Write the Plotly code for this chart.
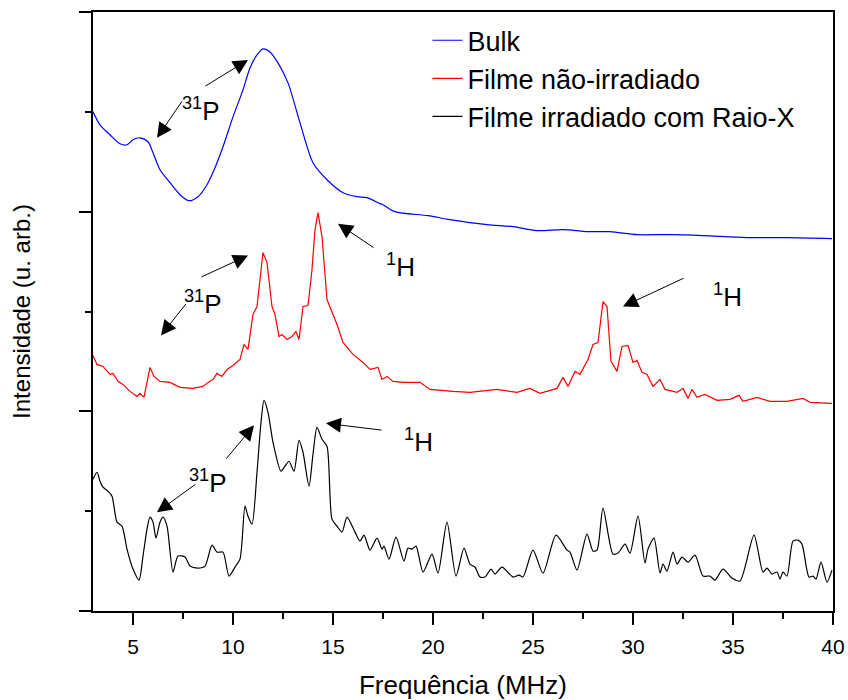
import plotly.graph_objects as go

# ---------------- data (frequency in MHz, intensity in arbitrary units with vertical offsets) ----------------
bulk_x = [3.0, 3.35, 3.85, 4.35, 4.7, 5.0, 5.35, 5.75, 6.0, 6.35, 6.85, 7.35, 7.8, 8.25, 8.7, 9.1,
          9.5, 10.0, 10.5, 10.85, 11.2, 11.5, 11.85, 12.25, 12.75, 13.35, 14.0, 14.7, 15.5, 16.2,
          16.7, 17.35, 17.5, 18.1, 19.75, 20.85, 22.7, 24.0, 25.2, 26.5, 27.7, 28.85, 30.2, 31.85,
          33.5, 35.7, 37.7, 39.95]
bulk_y = [500, 487, 477, 468, 467, 472, 474, 470, 459, 442, 429, 417, 411, 415, 427, 444,
          465, 495, 522, 544, 557, 563, 560, 549, 529, 489, 449, 432, 419, 415,
          414, 408, 407, 400, 396, 392, 387, 385, 381, 382, 380, 380, 377, 377,
          376, 374, 374, 373]

film_x = [3.0, 3.2, 3.5, 3.85, 4.0, 4.25, 4.5, 4.85, 5.2, 5.35, 5.55, 5.85, 6.05, 6.35, 6.85, 7.35,
          8.0, 8.5, 8.75, 9.0, 9.2, 9.45, 9.7, 10.0, 10.35, 10.55, 10.75, 11.0, 11.2, 11.35, 11.5,
          11.7, 11.95, 12.1, 12.3, 12.45, 12.7, 12.95, 13.15, 13.3, 13.5, 13.75, 13.95, 14.1, 14.25,
          14.45, 14.7, 15.2, 15.5, 16.0, 16.5, 16.85, 17.25, 17.45, 17.7, 18.0, 18.5, 19.35, 19.85,
          21.0, 21.85, 23.2, 24.2, 24.85, 25.35, 26.2, 26.5, 26.75, 27.1, 27.35, 27.75, 28.0, 28.25,
          28.5, 28.7, 28.9, 29.2, 29.45, 29.75, 30.0, 30.2, 30.45, 30.7, 31.0, 31.35, 31.6, 32.2,
          32.5, 32.75, 32.95, 33.2, 33.6, 34.2, 34.85, 35.3, 35.5, 36.2, 36.85, 37.7, 38.5, 38.85,
          39.95]
film_y = [256, 247, 245, 237, 238, 230, 227, 220, 215, 218, 214, 244, 235, 230, 229, 224,
          223, 225, 229, 232, 238, 235, 242, 246, 252, 267, 262, 297, 305, 335, 359,
          349, 305, 297, 275, 277, 272, 275, 280, 272, 305, 306, 342, 382, 399,
          375, 312, 287, 269, 257, 249, 242, 244, 232, 235, 230, 229, 229, 222,
          220, 219, 222, 219, 223, 218, 223, 234, 225, 240, 237, 252, 267, 269,
          310, 305, 250, 240, 265, 266, 249, 251, 239, 237, 225, 232, 222, 219,
          223, 213, 222, 214, 217, 211, 212, 216, 210, 214, 210, 210, 213, 209,
          208]

xray_x = [3.0, 3.2, 3.35, 3.5, 3.75, 3.95, 4.2, 4.45, 4.7, 5.0, 5.3, 5.5, 5.7, 5.85, 6.0, 6.15,
          6.35, 6.5, 6.7, 7.0, 7.25, 7.6, 7.85, 8.25, 8.6, 8.95, 9.2, 9.5, 9.8, 10.1, 10.35, 10.6,
          10.75, 10.95, 11.2, 11.4, 11.55, 11.75, 12.0, 12.4, 12.6, 12.8, 13.05, 13.3, 13.5, 13.8,
          14.0, 14.2, 14.45, 14.7, 14.95, 15.2, 15.45, 15.7, 16.1, 16.35, 16.55, 16.85, 17.2, 17.45,
          17.55, 17.8, 18.15, 18.55, 18.75, 18.95, 19.15, 19.5, 19.95, 20.25, 20.7, 21.15, 21.55,
          21.85, 22.1, 22.35, 22.6, 22.9, 23.1, 23.45, 24.0, 24.3, 24.5, 25.0, 25.5, 26.15, 26.7,
          26.85, 27.2, 27.7, 28.0, 28.2, 28.5, 29.0, 29.25, 29.6, 29.85, 30.25, 30.6, 30.75, 31.05,
          31.35, 31.5, 31.7, 32.0, 32.2, 32.45, 32.75, 33.1, 33.5, 33.85, 34.1, 34.5, 34.95, 35.35,
          36.05, 36.5, 36.7, 36.95, 37.2, 37.35, 37.5, 37.7, 38.0, 38.25, 38.45, 38.8, 39.0, 39.15,
          39.4, 39.7, 39.95]
xray_y = [132, 139, 130, 124, 120, 115, 89, 85, 62, 42, 31, 55, 82, 94, 89, 73,
          89, 94, 85, 39, 55, 54, 45, 43, 45, 66, 59, 59, 35, 44, 52, 105,
          95, 87, 139, 189, 211, 199, 169, 140, 145, 150, 140, 171, 159, 125,
          157, 184, 172, 165, 92, 85, 79, 94, 79, 70, 76, 61, 73, 62,
          65, 52, 74, 50, 63, 62, 65, 39, 57, 38, 89, 35, 63,
          47, 44, 34, 34, 42, 37, 44, 34, 36, 34, 61, 38, 76, 61,
          59, 41, 77, 60, 61, 103, 57, 58, 67, 58, 95, 48, 62, 73,
          38, 47, 40, 59, 47, 54, 49, 56, 35, 35, 31, 42, 33, 30,
          76, 39, 43, 37, 39, 32, 39, 35, 70, 71, 67, 34, 35, 32,
          49, 29, 41]

series_names = ["Bulk", "Filme não-irradiado", "Filme irradiado com Raio-X"]
series_colors = ["#0000ff", "#ff0000", "#000000"]

FONT = "Liberation Sans, Arial, sans-serif"

fig = go.Figure()
fig.add_trace(go.Scatter(x=bulk_x, y=bulk_y, mode="lines", name=series_names[0],
                         line=dict(color=series_colors[0], width=1.2, shape="spline", smoothing=0.8)))
fig.add_trace(go.Scatter(x=film_x, y=film_y, mode="lines", name=series_names[1],
                         line=dict(color=series_colors[1], width=1.2)))
fig.add_trace(go.Scatter(x=xray_x, y=xray_y, mode="lines", name=series_names[2],
                         line=dict(color=series_colors[2], width=1.2, shape="spline", smoothing=0.7)))

# ---------------- annotations: arrows (tail -> tip) and labels ----------------
arrows = [
    # bulk
    ((8.55, 525), (10.75, 552)),
    ((7.5, 512), (6.2, 474)),
    # film not irradiated
    ((8.35, 334), (10.75, 356)),
    ((7.7, 309), (6.4, 276)),
    ((17.1, 363), (15.25, 388)),
    ((32.6, 334), (29.5, 305)),
    # film irradiated
    ((9.6, 151), (11.05, 186)),
    ((8.2, 128), (6.2, 99)),
    ((17.5, 181), (14.65, 188)),
]
for (tx, ty), (hx, hy) in arrows:
    fig.add_annotation(x=hx, y=hy, ax=tx, ay=ty, xref="x", yref="y", axref="x", ayref="y",
                       text="", showarrow=True, arrowhead=2, arrowsize=3, arrowwidth=1,
                       arrowcolor="black", standoff=0, startstandoff=0)

labels = [
    (8.4, 502, "<sup>31</sup>P"),
    (8.5, 309, "<sup>31</sup>P"),
    (18.35, 346, "<sup>1</sup>H"),
    (34.7, 316, "<sup>1</sup>H"),
    (8.75, 130, "<sup>31</sup>P"),
    (19.25, 171, "<sup>1</sup>H"),
]
for lx, ly, txt in labels:
    fig.add_annotation(x=lx, y=ly, xref="x", yref="y", text=txt, showarrow=False,
                       font=dict(family=FONT, size=26, color="black"))

fig.update_layout(
    width=848, height=700,
    margin=dict(l=93, r=15, t=12, b=89, autoexpand=False),
    paper_bgcolor="white", plot_bgcolor="white",
    font=dict(family=FONT, color="black"),
    showlegend=True,
    legend=dict(x=0.452, y=0.993, xanchor="left", yanchor="top",
                bgcolor="rgba(0,0,0,0)", borderwidth=0,
                font=dict(family=FONT, size=27, color="black"),
                tracegroupgap=0, itemwidth=30),
)

fig.update_xaxes(
    range=[3, 40], tick0=0, dtick=5, automargin=False,
    showgrid=False, zeroline=False,
    showline=True, linecolor="black", linewidth=2, mirror=True,
    ticks="outside", ticklen=12, tickwidth=2, tickcolor="black",
    minor=dict(dtick=2.5, tick0=0, ticks="outside", ticklen=6, tickwidth=2, tickcolor="black", showgrid=False),
    tickfont=dict(family=FONT, size=21, color="black"), ticklabelstandoff=4,
    title=dict(text="Frequência (MHz)", font=dict(family=FONT, size=26, color="black"), standoff=26),
)
fig.update_yaxes(
    range=[0, 600], tick0=0, dtick=200, automargin=False,
    showgrid=False, zeroline=False,
    showline=True, linecolor="black", linewidth=2, mirror=True,
    ticks="outside", ticklen=12, tickwidth=2, tickcolor="black",
    minor=dict(dtick=100, tick0=0, ticks="outside", ticklen=6, tickwidth=2, tickcolor="black", showgrid=False),
    showticklabels=False,
    title=dict(text="Intensidade (u. arb.)", font=dict(family=FONT, size=24, color="black"), standoff=42),
)

fig.write_html("out.html")
